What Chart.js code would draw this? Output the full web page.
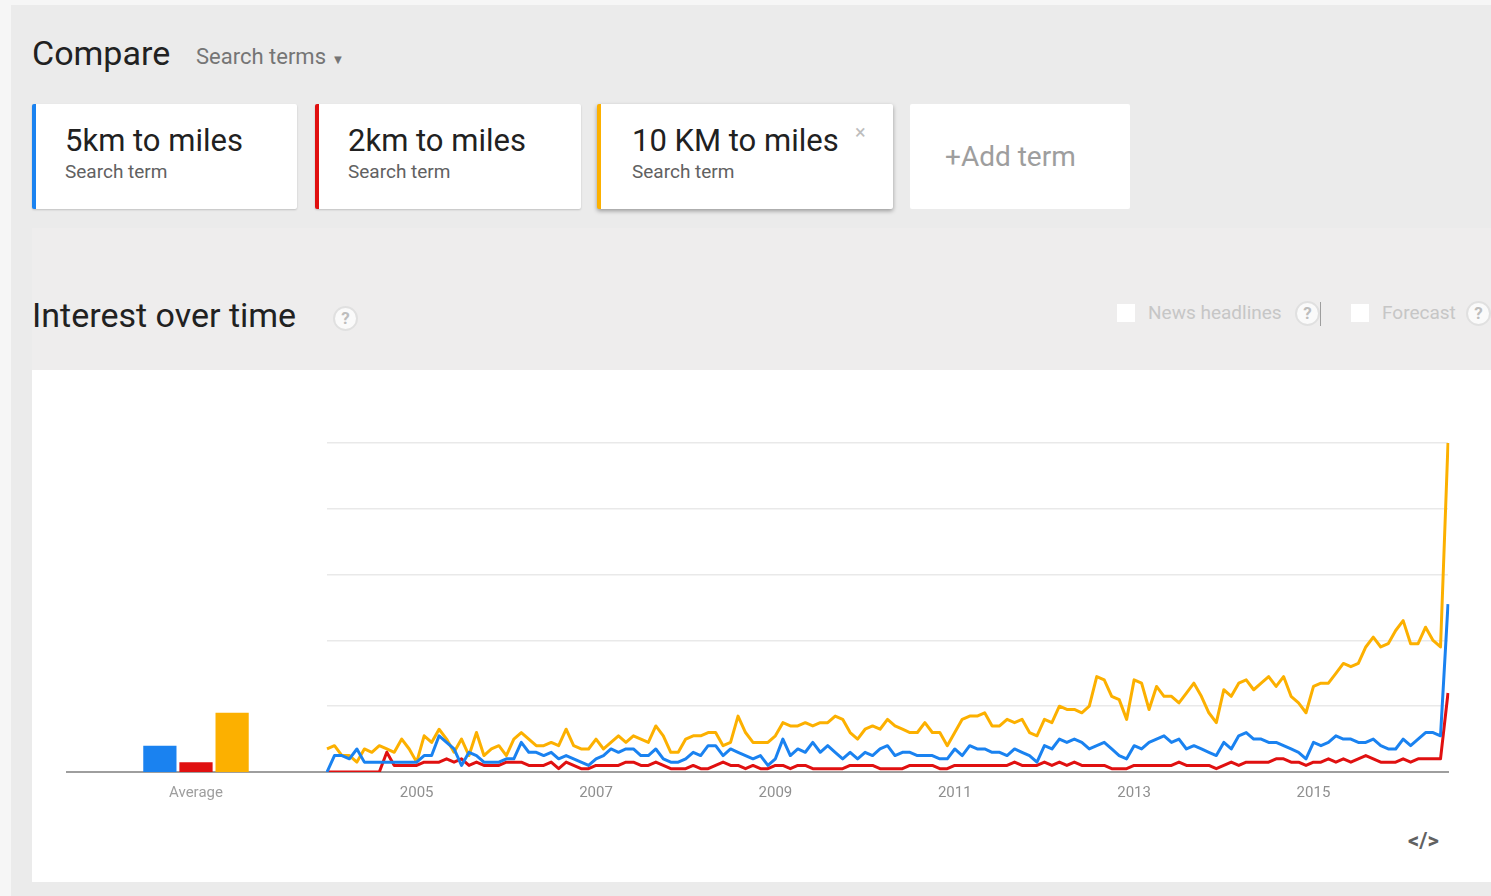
<!DOCTYPE html>
<html>
<head>
<meta charset="utf-8">
<script src="https://cdn.jsdelivr.net/npm/chart.js@4.4.1/dist/chart.umd.min.js"></script>
<style>
  body { margin: 0; width: 1491px; height: 896px; background: #f6f6f6; font-family: Roboto, "Open Sans", sans-serif; overflow: hidden; position: relative; }
  .abs { position: absolute; }
  #panel { left: 11px; top: 5px; width: 1480px; height: 891px; background: #ebebeb; }
  #section { left: 32px; top: 228px; width: 1459px; height: 142px; background: #eeeded; }
  #card { left: 32px; top: 370px; width: 1459px; height: 512px; background: #ffffff; }
  .h1 { font-size: 34px; color: #212121; line-height: 40px; white-space: nowrap; }
  .term { box-sizing: border-box; background: #fff; height: 105px; top: 104px; box-shadow: 0 1px 2px rgba(0,0,0,0.18); border-radius: 2px; }
  .term .t { position: absolute; left: 29px; top: 18px; font-size: 31px; color: #212121; white-space: nowrap; }
  .term .s { position: absolute; left: 29px; top: 56px; font-size: 19px; color: #616161; white-space: nowrap; }
  .help { width: 21px; height: 21px; border: 2px solid #e0e0e0; border-radius: 50%; background: #fafafa; color: #bdbdbd; font-size: 17px; font-weight: bold; text-align: center; line-height: 21px; }
  .check { width: 18px; height: 18px; background: #fff; }
  .opt { font-size: 19px; color: #c6c6c6; white-space: nowrap; line-height: 24px; }
</style>
</head>
<body>
<div class="abs" id="panel"></div>
<div class="abs" id="section"></div>
<div class="abs" id="card"></div>

<div class="abs h1" style="left:32px; top:33px;">Compare</div>
<div class="abs" style="left:196px; top:44px; font-size:22px; color:#757575; white-space:nowrap;">Search terms <span style="font-size:13px; position:relative; top:0px;">&#9660;</span></div>

<div class="abs term" style="left:32px; width:265px; border-left:4px solid #1a82f0;"><div class="t">5km to miles</div><div class="s">Search term</div></div>
<div class="abs term" style="left:315px; width:266px; border-left:4px solid #e01010;"><div class="t">2km to miles</div><div class="s">Search term</div></div>
<div class="abs term" style="left:597px; width:296px; border-left:4px solid #fcb000; box-shadow:0 2px 4px rgba(0,0,0,0.35);"><div class="t" style="left:31px;">10 KM to miles</div><div class="s" style="left:31px;">Search term</div><div style="position:absolute; left:254px; top:16px; font-size:20px; color:#bdbdbd;">&#215;</div></div>
<div class="abs term" style="left:910px; width:220px; box-shadow:none;"><div style="position:absolute; left:35px; top:36px; font-size:28px; color:#9e9e9e; white-space:nowrap;">+Add term</div></div>

<div class="abs h1" style="left:32px; top:295px;">Interest over time</div>
<div class="abs help" style="left:333px; top:306px;">?</div>

<div class="abs check" style="left:1117px; top:304px;"></div>
<div class="abs opt" style="left:1148px; top:301px;">News headlines</div>
<div class="abs help" style="left:1295px; top:301px;">?</div>
<div class="abs" style="left:1320px; top:302px; width:1px; height:24px; background:#9e9e9e;"></div>
<div class="abs check" style="left:1351px; top:304px;"></div>
<div class="abs opt" style="left:1382px; top:301px;">Forecast</div>
<div class="abs help" style="left:1466px; top:301px;">?</div>

<div class="abs" style="left:1408px; top:828px; font-size:22px; font-weight:bold; color:#616161;">&lt;/&gt;</div>

<div class="abs" style="left:40px; top:380px; width:290px; height:443px;"><canvas id="avgChart"></canvas></div>
<div class="abs" style="left:320px; top:380px; width:1160px; height:443px;"><canvas id="trendChart"></canvas></div>

<script>
// series colours
const colorBlue = "#1a82f0";
const colorRed = "#e01010";
const colorOrange = "#fcb000";

const termNames = ["5km to miles", "2km to miles", "10 KM to miles"];

// averages (left bars)
const avgLabel = ["Average"];
const avgBlue = [8];
const avgRed = [3];
const avgOrange = [18];

// monthly values, Jan 2004 onwards
const startYear = 2004;
const blueValues = [
  0, 5, 5, 4, 7, 3, 3, 3, 3, 3, 3, 3, 3, 5, 5, 11, 9, 7, 2, 6,
  5, 3, 3, 3, 4, 4, 9, 6, 6, 5, 6, 4, 5, 4, 3, 2, 4, 5, 7, 6,
  7, 7, 5, 5, 7, 4, 3, 3, 4, 6, 5, 8, 8,
  5, 7, 6, 5, 4, 5, 2, 4, 10, 5, 7, 6, 9, 6, 8, 6, 4, 6, 4, 6,
  5, 7, 8, 5, 6, 6, 5, 5, 5, 4, 4, 7, 5, 8, 7, 7, 6, 6, 5, 7,
  6, 5, 3, 8,
  7, 10, 9, 10, 9, 7, 8, 9, 7, 5, 4, 8, 7, 9, 10, 11, 9, 10, 7, 8,
  7, 6, 5, 9, 7, 11, 12, 10, 10, 9, 9, 8, 7, 6, 4, 9, 8, 9, 11, 10,
  10, 9, 9, 10, 8, 7, 7, 10, 8, 10, 12, 12, 11, 51
];
const redValues = [
  0, 0, 0, 0, 0, 0, 0, 0, 6, 2, 2, 2, 2, 3, 3, 3, 4, 3, 4, 2,
  3, 2, 2, 2, 3, 3, 3, 2, 2, 2, 3, 1, 3, 2, 1, 1, 2, 2, 2, 2,
  3, 3, 2, 2, 3, 2, 1, 1, 1, 2, 1, 1, 2,
  3, 2, 2, 1, 2, 1, 1, 2, 2, 1, 2, 2, 1, 1, 1, 1, 1, 2, 2, 2,
  2, 1, 1, 1, 1, 2, 2, 2, 2, 1, 1, 2, 2, 2, 2, 2, 2, 2, 2, 3,
  2, 2, 2, 3,
  2, 3, 2, 3, 2, 2, 2, 2, 1, 1, 1, 2, 2, 2, 2, 2, 2, 3, 2, 2,
  2, 2, 1, 2, 3, 2, 3, 3, 3, 3, 4, 4, 3, 3, 2, 3, 3, 4, 3, 4,
  3, 4, 5, 4, 3, 3, 3, 4, 3, 4, 4, 4, 4, 24
];
const orangeValues = [
  7, 8, 5, 5, 3, 7, 6, 8, 7, 6, 10, 7, 3, 11, 9, 13, 10, 6, 10, 5,
  12, 5, 7, 8, 5, 10, 12, 10, 8, 8, 9, 8, 13, 8, 7, 7, 10, 7, 9, 11,
  9, 11, 10, 9, 14, 11, 6, 6, 10, 11, 11, 12, 12,
  8, 9, 17, 12, 9, 9, 9, 11, 15, 14, 14, 15, 14, 15, 15, 17, 16, 12, 10, 13,
  14, 13, 16, 14, 13, 12, 12, 15, 12, 12, 8, 12, 16, 17, 17, 18, 14, 14, 16, 15,
  16, 12, 11, 16,
  15, 20, 19, 19, 18, 20, 29, 28, 23, 22, 16, 28, 27, 19, 26, 23, 23, 21, 24, 27,
  23, 18, 15, 25, 23, 27, 28, 25, 27, 29, 26, 29, 23, 21, 18, 26, 27, 27, 30, 33,
  32, 33, 38, 41, 38, 39, 43, 46, 39, 39, 44, 40, 38, 100
];

// year ticks shown under the line chart
const tickYears = ["2005", "2007", "2009", "2011", "2013", "2015"];

// month labels
const monthLabels = [];
for (let i = 0; i < blueValues.length; i++) {
  const y = startYear + Math.floor(i / 12);
  const m = (i % 12) + 1;
  monthLabels.push(y + "-" + (m < 10 ? "0" + m : m));
}

Chart.defaults.font.family = "Roboto, 'Open Sans', sans-serif";
Chart.defaults.animation = false;

const sharedPadding = { top: 63, bottom: 9 };

const tickFont = { size: 15 };

// Average bars
new Chart(document.getElementById("avgChart"), {
  type: "bar",
  data: {
    labels: avgLabel,
    datasets: [
      { label: termNames[0], data: avgBlue, backgroundColor: colorBlue },
      { label: termNames[1], data: avgRed, backgroundColor: colorRed },
      { label: termNames[2], data: avgOrange, backgroundColor: colorOrange },
    ],
  },
  options: {
    responsive: true,
    maintainAspectRatio: false,
    layout: { padding: { left: 27, right: 5, top: sharedPadding.top, bottom: sharedPadding.bottom } },
    plugins: { legend: { display: false }, tooltip: { enabled: false } },
    datasets: { bar: { categoryPercentage: 0.42, barPercentage: 0.92 } },
    scales: {
      x: {
        grid: { display: false, drawTicks: false },
        border: { display: true, color: "#9e9e9e", width: 2 },
        ticks: { color: "#9e9e9e", font: tickFont, padding: 12 },
      },
      y: { display: false, min: 0, max: 100 },
    },
  },
});

// Interest over time lines
new Chart(document.getElementById("trendChart"), {
  type: "line",
  data: {
    labels: monthLabels,
    datasets: [
      { label: termNames[0], data: blueValues, borderColor: colorBlue },
      { label: termNames[1], data: redValues, borderColor: colorRed },
      { label: termNames[2], data: orangeValues, borderColor: colorOrange },
    ],
  },
  options: {
    responsive: true,
    maintainAspectRatio: false,
    layout: { padding: { left: 7, right: 32, top: sharedPadding.top, bottom: sharedPadding.bottom } },
    plugins: { legend: { display: false }, tooltip: { enabled: false } },
    elements: {
      point: { radius: 0 },
      line: { borderWidth: 3, tension: 0, borderJoinStyle: "round" },
    },
    scales: {
      x: {
        grid: { display: false, drawTicks: false },
        border: { display: true, color: "#9e9e9e", width: 2 },
        ticks: {
          autoSkip: false,
          maxRotation: 0,
          color: "#8f8f8f",
          font: tickFont,
          padding: 12,
          callback: function (value) {
            const lab = this.getLabelForValue(value);
            const yr = lab.slice(0, 4);
            if (lab.endsWith("-01") && tickYears.includes(yr)) {
              return yr;
            }
            return null;
          },
        },
      },
      y: {
        min: 0,
        max: 100,
        ticks: { display: false, stepSize: 20 },
        border: { display: false },
        grid: {
          drawTicks: false,
          lineWidth: 1.5,
          color: (ctx) => (ctx.tick && ctx.tick.value === 0 ? "rgba(0,0,0,0)" : "#e9e9e9"),
        },
      },
    },
  },
});
</script>
</body>
</html>
